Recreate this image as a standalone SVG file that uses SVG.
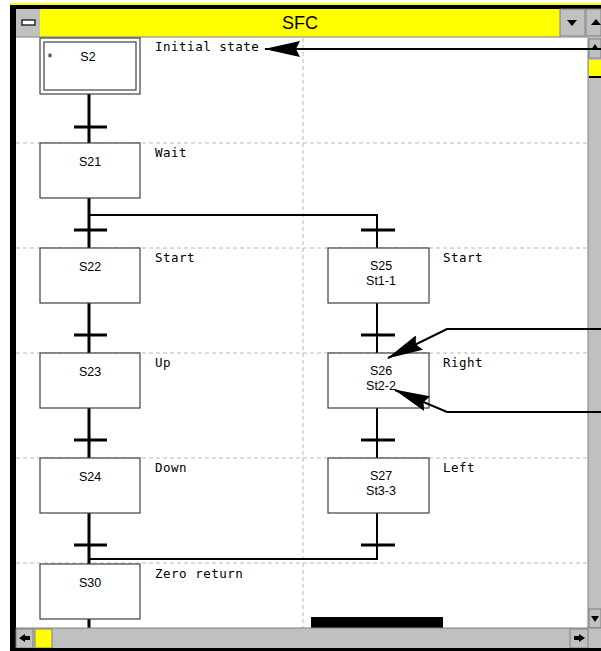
<svg xmlns="http://www.w3.org/2000/svg" width="601" height="651" viewBox="0 0 601 651">
<style>
.grid{stroke:#b8b8b8;stroke-width:1;stroke-dasharray:4 3;fill:none}
.step rect{fill:#fff;stroke:#404040;stroke-width:1.2}
.nt{font-family:"Liberation Sans",Arial,sans-serif;font-size:12.5px;fill:#000;text-anchor:middle}
.lbl{font-family:"DejaVu Sans Mono","Liberation Mono",monospace;font-size:12.5px;fill:#000;letter-spacing:0.5px}
.flow{stroke:#000;stroke-width:3;fill:none}
.hl{stroke:#000;stroke-width:2;fill:none}
.bar{stroke:#000;stroke-width:3}
.btn{fill:#c0c0c0;stroke:#808080;stroke-width:1}
</style>
<defs>
<marker id="ah" viewBox="0 0 36 16" refX="35" refY="8" markerWidth="36" markerHeight="16" markerUnits="userSpaceOnUse" orient="auto">
<path d="M0,0 L36,8 L0,16 L4,8 Z" fill="#000"/>
</marker>
</defs>
<rect width="601" height="651" fill="#fff"/>
<!-- window frame -->
<rect x="10" y="3" width="591" height="2" fill="#ffff00"/>
<rect x="10" y="5" width="591" height="4" fill="#000"/>
<rect x="10" y="5" width="6" height="646" fill="#000"/>
<rect x="16" y="9" width="24" height="28" fill="#c0c0c0"/>
<rect x="22" y="20" width="13" height="5" fill="#fff" stroke="#000" stroke-width="1.2"/>
<rect x="40" y="9" width="520" height="28" fill="#ffff00"/>
<text x="300" y="29" font-family="Liberation Sans,Arial,sans-serif" font-size="18" font-weight="300" text-anchor="middle" fill="#000">SFC</text>
<rect x="560" y="9" width="25" height="27" class="btn"/>
<path d="M567,20 L577,20 L572,26 Z" fill="#000"/>
<rect x="586" y="9" width="15" height="27" class="btn"/>
<path d="M591,25 L601,25 L596,19 Z" fill="#000"/>
<line x1="16" y1="37" x2="601" y2="37" stroke="#808080" stroke-width="1"/>
<!-- grid -->
<g id="grid">
<line class="grid" x1="303" y1="38" x2="303" y2="628"/>
<line class="grid" x1="16" y1="143" x2="588" y2="143"/>
<line class="grid" x1="16" y1="248" x2="588" y2="248"/>
<line class="grid" x1="16" y1="353" x2="588" y2="353"/>
<line class="grid" x1="16" y1="458" x2="588" y2="458"/>
<line class="grid" x1="16" y1="563" x2="588" y2="563"/>
</g>
<!-- connectors -->
<g id="connectors">
<line class="flow" x1="89" y1="94" x2="89" y2="628"/>
<polyline class="hl" points="89,215 377,215 377,248"/>
<line class="hl" x1="377" y1="303" x2="377" y2="353"/>
<line class="hl" x1="377" y1="408" x2="377" y2="458"/>
<polyline class="hl" points="377,513 377,559 89,559"/>
<line class="bar" x1="74" y1="127" x2="107" y2="127"/>
<line class="bar" x1="74" y1="230" x2="107" y2="230"/>
<line class="bar" x1="74" y1="335" x2="107" y2="335"/>
<line class="bar" x1="74" y1="440" x2="107" y2="440"/>
<line class="bar" x1="74" y1="545" x2="107" y2="545"/>
<line class="bar" x1="361" y1="230" x2="395" y2="230"/>
<line class="bar" x1="361" y1="335" x2="395" y2="335"/>
<line class="bar" x1="361" y1="440" x2="395" y2="440"/>
<line class="bar" x1="361" y1="545" x2="395" y2="545"/>
</g>
<!-- steps -->
<g id="S2" class="step">
<rect x="40" y="38" width="100" height="56"/>
<rect x="44" y="42" width="92" height="48"/>
<text class="nt" x="50" y="62" font-size="11">*</text>
<text class="nt" x="88" y="61">S2</text>
</g>
<g id="S21" class="step"><rect x="40" y="143" width="100" height="55"/><text class="nt" x="90" y="166">S21</text></g>
<g id="S22" class="step"><rect x="40" y="248" width="100" height="55"/><text class="nt" x="90" y="271">S22</text></g>
<g id="S23" class="step"><rect x="40" y="353" width="100" height="55"/><text class="nt" x="90" y="376">S23</text></g>
<g id="S24" class="step"><rect x="40" y="458" width="100" height="55"/><text class="nt" x="90" y="481">S24</text></g>
<g id="S30" class="step"><rect x="40" y="564" width="100" height="55"/><text class="nt" x="90" y="587">S30</text></g>
<g id="S25" class="step"><rect x="328" y="248" width="101" height="55"/><text class="nt" x="381" y="270">S25</text><text class="nt" x="381" y="285">St1-1</text></g>
<g id="S26" class="step"><rect x="328" y="353" width="101" height="55"/><text class="nt" x="381" y="375">S26</text><text class="nt" x="381" y="390">St2-2</text></g>
<g id="S27" class="step"><rect x="328" y="458" width="101" height="55"/><text class="nt" x="381" y="480">S27</text><text class="nt" x="381" y="495">St3-3</text></g>
<!-- labels -->
<g id="labels">
<text class="lbl" x="155" y="51">Initial state</text>
<text class="lbl" x="155" y="157">Wait</text>
<text class="lbl" x="155" y="262">Start</text>
<text class="lbl" x="155" y="367">Up</text>
<text class="lbl" x="155" y="472">Down</text>
<text class="lbl" x="155" y="578">Zero return</text>
<text class="lbl" x="443" y="262">Start</text>
<text class="lbl" x="443" y="367">Right</text>
<text class="lbl" x="443" y="472">Left</text>
</g>
<!-- right scrollbar -->
<rect x="588" y="38" width="13" height="590" fill="#c0c0c0"/>
<line x1="588" y1="38" x2="588" y2="628" stroke="#808080"/>
<rect x="589" y="39" width="12" height="19" class="btn"/>
<path d="M591,50 L599,50 L595,44 Z" fill="#000"/>
<rect x="589" y="60" width="12" height="16" fill="#ffff00"/>
<line x1="589" y1="77" x2="601" y2="77" stroke="#000" stroke-width="2"/>
<rect x="589" y="609" width="12" height="19" class="btn"/>
<path d="M591,616 L599,616 L595,622 Z" fill="#000"/>
<!-- external arrows -->
<g id="arrows">
<line x1="601" y1="49" x2="265" y2="49" class="hl" marker-end="url(#ah)"/>
<polyline points="601,329 447,329 388,358" class="hl" marker-end="url(#ah)"/>
<polyline points="601,412 447,412 395,390" class="hl" marker-end="url(#ah)"/>
</g>
<!-- bottom scrollbar -->
<rect x="311" y="617" width="132" height="11" fill="#000"/>
<rect x="16" y="628" width="585" height="20" fill="#c0c0c0"/>
<line x1="16" y1="628" x2="601" y2="628" stroke="#808080"/>
<rect x="16" y="629" width="17" height="19" class="btn"/>
<path d="M19,638 L25,634 L25,636 L30,636 L30,640 L25,640 L25,642 Z" fill="#000"/>
<rect x="35" y="629" width="17" height="19" fill="#ffff00" stroke="#808080"/>
<rect x="570" y="629" width="18" height="19" class="btn"/>
<path d="M585,638 L579,634 L579,636 L574,636 L574,640 L579,640 L579,642 Z" fill="#000"/>
<rect x="10" y="648" width="591" height="3" fill="#000"/>
</svg>
